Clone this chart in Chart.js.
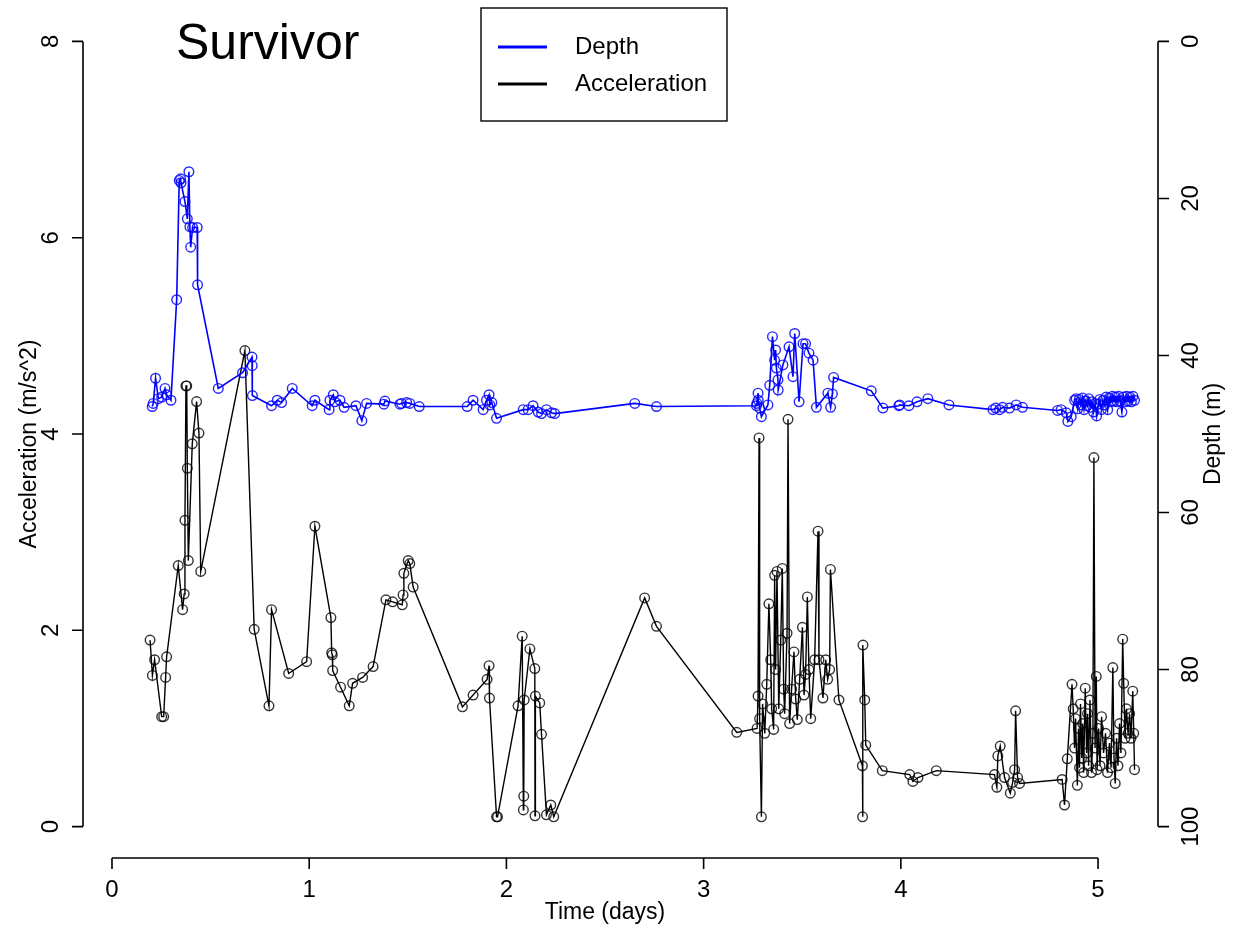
<!DOCTYPE html>
<html>
<head>
<meta charset="utf-8">
<script src="https://cdn.jsdelivr.net/npm/chart.js@4"></script>
<style>
html,body{margin:0;padding:0;background:#fff;}
#wrap{width:1233px;height:930px;}
</style>
</head>
<body>
<div id="wrap"><canvas id="c" width="1233" height="930"></canvas></div>
<script>
// tick labels
const timeTicks = [0,1,2,3,4,5];
const accTicks = [0,2,4,6,8];
const depthTicks = [0,20,40,60,80,100];

// depth series (time in days, depth in m)
const depthTime = [0.204,0.209,0.221,0.235,0.252,0.269,0.277,0.299,0.328,0.341,0.348,0.350,0.370,0.382,0.390,0.395,0.399,0.409,0.432,0.434,
  0.539,0.662,0.710,0.711,0.712,0.809,0.838,0.860,0.914,1.015,1.029,1.101,1.105,1.122,1.130,1.156,1.177,1.237,1.267,1.291,
  1.379,1.384,1.460,1.468,1.494,1.510,1.558,1.801,1.831,1.882,1.899,1.912,1.916,1.926,1.950,2.085,2.110,2.135,2.161,2.178,
  2.203,2.229,2.245,2.651,2.761,3.268,3.270,3.276,3.277,3.284,3.293,3.326,3.335,3.349,3.360,3.365,3.369,3.377,3.378,3.402,
  3.433,3.453,3.462,3.484,3.504,3.517,3.534,3.555,3.572,3.630,3.644,3.653,3.659,3.850,3.909,3.990,3.994,4.041,4.082,4.137,
  4.244,4.467,4.481,4.501,4.516,4.551,4.585,4.617,4.795,4.813,4.839,4.847,4.864,4.881,4.889,4.897,4.905,4.913,4.921,4.929,
  4.937,4.945,4.953,4.961,4.969,4.977,4.985,4.993,5.001,5.009,5.017,5.025,5.033,5.041,5.049,5.057,5.065,5.073,5.081,5.089,
  5.097,5.105,5.113,5.121,5.129,5.137,5.145,5.153,5.161,5.169,5.177,5.185];
const depthValue = [46.5,46.1,42.9,45.5,45.3,44.2,45.0,45.7,32.9,17.7,17.5,18.0,20.4,22.6,16.6,23.6,26.2,23.7,23.7,31.0,
  44.2,42.2,40.2,41.3,45.1,46.4,45.7,46.0,44.2,46.4,45.7,46.9,45.7,45.0,45.9,45.7,46.6,46.4,48.3,46.1,
  46.2,45.8,46.2,46.1,46.0,46.1,46.5,46.5,45.7,46.9,45.7,45.0,46.3,46.0,48.0,46.9,46.9,46.4,47.2,47.4,
  46.9,47.3,47.4,46.1,46.5,46.4,46.1,44.8,45.7,46.7,47.8,46.3,43.8,37.6,40.6,39.3,41.6,43.1,44.4,41.2,
  38.9,42.7,37.2,45.9,38.5,38.5,39.7,40.6,46.6,44.8,46.6,44.9,42.8,44.5,46.7,46.4,46.3,46.4,45.9,45.5,
  46.3,46.9,46.7,46.9,46.6,46.7,46.3,46.6,47.0,46.9,47.3,48.4,47.8,45.7,45.5,46.8,45.6,46.3,45.4,46.9,
  45.8,46.4,45.5,46.6,45.9,47.2,46.1,47.7,46.2,45.6,46.9,45.7,46.3,45.3,46.9,45.4,45.9,45.2,45.8,45.3,
  45.9,45.2,45.8,47.2,45.3,45.9,45.2,45.8,45.3,45.9,45.2,45.7];

// acceleration series (time in days, m/s^2)
const accTime = [0.193,0.205,0.216,0.252,0.262,0.272,0.277,0.336,0.358,0.366,0.370,0.375,0.379,0.382,0.387,0.407,0.429,0.441,0.450,0.674,
  0.721,0.796,0.809,0.896,0.987,1.029,1.110,1.114,1.117,1.119,1.159,1.203,1.220,1.271,1.324,1.389,1.423,1.472,1.476,1.480,
  1.502,1.510,1.527,1.777,1.831,1.902,1.912,1.914,1.950,1.955,2.059,2.080,2.086,2.088,2.090,2.119,2.144,2.145,2.147,2.169,
  2.178,2.203,2.225,2.240,2.701,2.761,3.168,3.271,3.276,3.281,3.284,3.293,3.299,3.310,3.320,3.331,3.340,3.345,3.355,3.360,
  3.365,3.372,3.381,3.391,3.399,3.406,3.411,3.423,3.428,3.436,3.446,3.458,3.467,3.475,3.487,3.501,3.509,3.517,3.526,3.534,
  3.543,3.563,3.580,3.585,3.605,3.619,3.629,3.639,3.643,3.686,3.805,3.806,3.808,3.817,3.822,3.906,4.045,4.061,4.087,4.180,
  4.475,4.487,4.492,4.504,4.526,4.555,4.567,4.577,4.582,4.592,4.602,4.818,4.830,4.844,4.868,4.874,4.881,4.886,4.895,4.901,
  4.906,4.911,4.917,4.922,4.927,4.935,4.942,4.947,4.952,4.959,4.967,4.974,4.979,4.985,4.991,4.995,5.003,5.010,5.018,5.028,
  5.038,5.048,5.058,5.066,5.075,5.081,5.087,5.094,5.101,5.109,5.116,5.125,5.130,5.137,5.144,5.152,5.160,5.167,5.176,5.181,5.185];
const accValue = [1.90,1.54,1.70,1.12,1.12,1.52,1.73,2.66,2.21,2.37,3.12,4.49,4.49,3.65,2.71,3.90,4.33,4.01,2.60,4.85,
  2.01,1.23,2.21,1.56,1.68,3.06,2.13,1.77,1.75,1.59,1.42,1.23,1.46,1.52,1.63,2.31,2.29,2.26,2.36,2.58,
  2.71,2.68,2.44,1.22,1.34,1.50,1.64,1.31,0.10,0.10,1.23,1.94,0.17,0.31,1.29,1.81,1.61,0.11,1.33,1.26,
  0.94,0.12,0.22,0.10,2.33,2.04,0.96,1.00,1.33,3.96,1.10,0.10,1.25,0.95,1.45,2.27,1.70,1.20,0.99,2.56,
  1.60,2.60,1.20,1.90,2.63,1.40,1.15,1.97,4.15,1.05,1.40,1.78,1.30,1.09,1.50,2.03,1.34,1.55,2.34,1.60,
  1.10,1.70,3.01,1.70,1.31,1.70,1.50,1.60,2.62,1.29,0.62,0.10,1.85,1.29,0.83,0.57,0.53,0.46,0.50,0.57,
  0.53,0.40,0.72,0.82,0.50,0.34,0.45,0.58,1.18,0.50,0.44,0.48,0.22,0.69,1.45,1.20,0.80,1.10,0.42,1.00,
  0.60,1.25,0.70,1.05,0.55,1.41,0.75,1.15,0.62,1.29,0.55,0.95,3.76,0.80,1.53,0.58,1.00,0.62,1.12,0.75,
  0.95,0.55,0.85,0.60,1.62,0.70,0.44,0.90,0.62,1.05,0.75,1.91,1.46,0.90,1.20,0.95,1.15,0.90,1.38,0.95,0.58];

const depthPts = depthTime.map((t,i)=>({x:t,y:depthValue[i]}));
const accPts = accTime.map((t,i)=>({x:t,y:accValue[i]}));

const FONT = '"Liberation Sans", Arial, sans-serif';

// R-style axes, title and legend
const rAxes = {
  id:'rAxes',
  afterDraw(chart){
    const c = chart.ctx;
    const x = chart.scales.x, ya = chart.scales.yAcc, yd = chart.scales.yDepth;
    const area = chart.chartArea;
    c.save();
    c.strokeStyle = '#000';
    c.fillStyle = '#000';
    c.lineWidth = 1.6;

    // left axis
    const lx = area.left;
    c.beginPath();
    c.moveTo(lx, ya.getPixelForValue(accTicks[0]));
    c.lineTo(lx, ya.getPixelForValue(accTicks[accTicks.length-1]));
    accTicks.forEach(v=>{
      const p = ya.getPixelForValue(v);
      c.moveTo(lx, p); c.lineTo(lx-11, p);
    });
    c.stroke();
    c.font = '24px ' + FONT;
    c.textAlign = 'center'; c.textBaseline = 'middle';
    accTicks.forEach(v=>{
      c.save();
      c.translate(51, ya.getPixelForValue(v));
      c.rotate(-Math.PI/2);
      c.fillText(String(v), 0, 0);
      c.restore();
    });

    // right axis
    const rx = area.right;
    c.beginPath();
    c.moveTo(rx, yd.getPixelForValue(depthTicks[0]));
    c.lineTo(rx, yd.getPixelForValue(depthTicks[depthTicks.length-1]));
    depthTicks.forEach(v=>{
      const p = yd.getPixelForValue(v);
      c.moveTo(rx, p); c.lineTo(rx+11, p);
    });
    c.stroke();
    depthTicks.forEach(v=>{
      c.save();
      c.translate(1191, yd.getPixelForValue(v));
      c.rotate(-Math.PI/2);
      c.fillText(String(v), 0, 0);
      c.restore();
    });

    // bottom axis
    const by = area.bottom;
    c.beginPath();
    c.moveTo(x.getPixelForValue(timeTicks[0]), by);
    c.lineTo(x.getPixelForValue(timeTicks[timeTicks.length-1]), by);
    timeTicks.forEach(v=>{
      const p = x.getPixelForValue(v);
      c.moveTo(p, by); c.lineTo(p, by+11);
    });
    c.stroke();
    timeTicks.forEach(v=>{
      c.fillText(String(v), x.getPixelForValue(v), 890);
    });

    // axis titles
    c.font = '23px ' + FONT;
    c.fillText('Time (days)', 605, 913);
    c.save();
    c.translate(30, 444);
    c.rotate(-Math.PI/2);
    c.fillText('Acceleration (m/s^2)', 0, 0);
    c.restore();
    c.save();
    c.translate(1214, 434);
    c.rotate(-Math.PI/2);
    c.fillText('Depth (m)', 0, 0);
    c.restore();

    // main title
    c.font = '50px ' + FONT;
    c.textAlign = 'left';
    c.fillText('Survivor', 176, 45);

    // legend
    c.lineWidth = 1.4;
    c.fillStyle = '#fff';
    c.fillRect(481, 8, 246, 113);
    c.strokeRect(481, 8, 246, 113);
    c.lineWidth = 2.8;
    c.strokeStyle = '#0000ff';
    c.beginPath(); c.moveTo(498, 47); c.lineTo(547, 47); c.stroke();
    c.strokeStyle = '#000';
    c.beginPath(); c.moveTo(498, 84); c.lineTo(547, 84); c.stroke();
    c.fillStyle = '#000';
    c.font = '24px ' + FONT;
    c.fillText('Depth', 575, 47);
    c.fillText('Acceleration', 575, 84);
    c.restore();
  }
};

const ctx = document.getElementById('c').getContext('2d');
const chart = new Chart(ctx,{
  type:'line',
  data:{
    datasets:[
      {label:'Depth',data:depthPts,yAxisID:'yDepth',borderColor:'#0000ff',borderWidth:1.6,
       pointRadius:4.8,pointBorderColor:'rgba(0,0,255,0.85)',pointBackgroundColor:'rgba(0,0,0,0)',pointBorderWidth:1.4,tension:0},
      {label:'Acceleration',data:accPts,yAxisID:'yAcc',borderColor:'#000',borderWidth:1.4,
       pointRadius:4.8,pointBorderColor:'rgba(0,0,0,0.8)',pointBackgroundColor:'rgba(0,0,0,0)',pointBorderWidth:1.4,tension:0}
    ]
  },
  options:{
    responsive:false,
    animation:false,
    devicePixelRatio:1,
    layout:{padding:{left:83,right:75,top:10,bottom:72}},
    plugins:{legend:{display:false},title:{display:false},tooltip:{enabled:false}},
    scales:{
      x:{type:'linear',display:false,min:-0.147,max:5.304},
      yAcc:{type:'linear',display:false,position:'left',min:-0.32,max:8.32},
      yDepth:{type:'linear',display:false,position:'right',reverse:true,min:-4,max:104}
    }
  },
  plugins:[rAxes]
});
</script>
</body>
</html>
